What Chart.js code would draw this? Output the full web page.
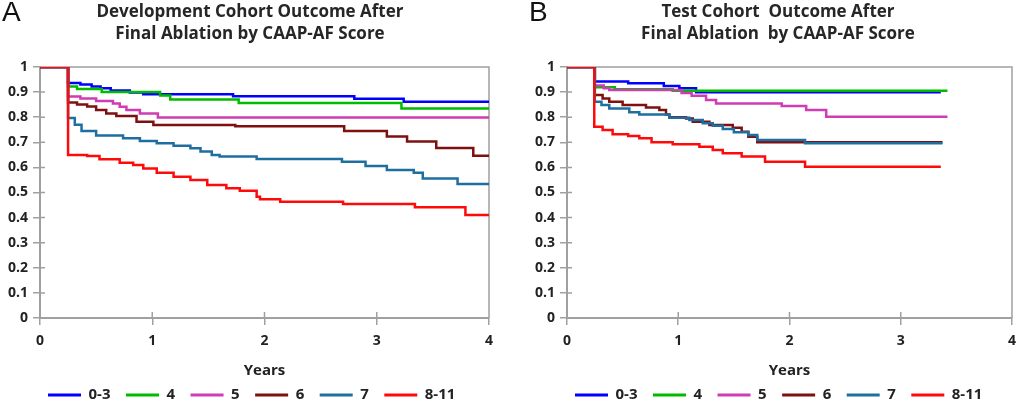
<!DOCTYPE html>
<html>
<head>
<meta charset="utf-8">
<script src="https://cdn.jsdelivr.net/npm/chart.js@4.4.1/dist/chart.umd.min.js"></script>
<style>
  body { margin: 0; background: #fff; }
  #wrap { position: relative; width: 1024px; height: 402px; overflow: hidden; }
  canvas { position: absolute; top: 0; }
  .panel { position: absolute; top: -4px; font: 28px "Liberation Sans", Arial, sans-serif; color: #111; }
  .title { position: absolute; top: 0; width: 500px; text-align: center; white-space: pre;
           font: bold 17px "Open Sans", sans-serif; line-height: 22px; color: #262626; }
</style>
</head>
<body>
<div id="wrap">
  <canvas id="devChart" width="512" height="402" style="left:0"></canvas>
  <canvas id="testChart" width="512" height="402" style="left:512px"></canvas>
  <div class="panel" style="left:2px">A</div>
  <div class="panel" style="left:529px">B</div>
  <div class="title" style="left:0px">Development Cohort Outcome After<br>Final Ablation by CAAP-AF Score</div>
  <div class="title" style="left:528px">Test Cohort  Outcome After<br>Final Ablation  by CAAP-AF Score</div>
</div>
<script>
// CAAP-AF score groups (legend order)
const scoreGroups = ["0-3", "4", "5", "6", "7", "8-11"];
const yearTicks = [0, 1, 2, 3, 4];
const survivalTicks = [0, 0.1, 0.2, 0.3, 0.4, 0.5, 0.6, 0.7, 0.8, 0.9, 1];

// Development cohort: [years, freedom from AF]
const dev03 = [[0,1],[0.25,0.936],[0.36,0.930],[0.46,0.922],[0.54,0.915],[0.63,0.906],[0.80,0.898],[0.92,0.891],[1.72,0.883],[2.80,0.874],[3.24,0.862],[4,0.862]];
const dev4 = [[0,1],[0.25,0.922],[0.33,0.912],[0.55,0.900],[1.07,0.886],[1.16,0.871],[1.77,0.857],[3.22,0.835],[4,0.835]];
const dev5 = [[0,1],[0.25,0.882],[0.36,0.875],[0.50,0.865],[0.65,0.855],[0.71,0.842],[0.77,0.829],[0.89,0.815],[1.05,0.799],[4,0.799]];
const dev6 = [[0,1],[0.25,0.859],[0.33,0.851],[0.42,0.843],[0.50,0.829],[0.59,0.815],[0.68,0.805],[0.86,0.782],[1.01,0.769],[1.74,0.764],[2.71,0.745],[3.09,0.723],[3.27,0.703],[3.53,0.677],[3.86,0.646],[4,0.646]];
const dev7 = [[0,1],[0.25,0.797],[0.31,0.770],[0.37,0.745],[0.50,0.727],[0.74,0.716],[0.89,0.705],[1.04,0.696],[1.19,0.686],[1.34,0.676],[1.43,0.663],[1.53,0.649],[1.60,0.643],[1.93,0.633],[2.69,0.623],[2.90,0.606],[3.09,0.590],[3.33,0.579],[3.41,0.556],[3.72,0.534],[4,0.534]];
const dev811 = [[0,1],[0.25,0.649],[0.42,0.645],[0.53,0.632],[0.71,0.619],[0.83,0.610],[0.92,0.596],[1.04,0.579],[1.19,0.563],[1.34,0.550],[1.49,0.530],[1.66,0.517],[1.78,0.507],[1.93,0.483],[1.96,0.473],[2.14,0.463],[2.70,0.454],[3.34,0.441],[3.79,0.410],[4,0.410]];

// Test cohort
const test03 = [[0,1],[0.25,0.942],[0.55,0.935],[0.87,0.924],[1.01,0.915],[1.16,0.899],[3.36,0.899]];
const test4 = [[0,1],[0.25,0.919],[0.43,0.911],[0.95,0.905],[3.42,0.905]];
const test5 = [[0,1],[0.25,0.926],[0.33,0.915],[0.38,0.908],[1.03,0.896],[1.12,0.885],[1.25,0.869],[1.34,0.855],[1.93,0.845],[2.15,0.829],[2.33,0.802],[3.42,0.802]];
const test6 = [[0,1],[0.25,0.888],[0.32,0.875],[0.38,0.862],[0.50,0.849],[0.71,0.839],[0.83,0.829],[0.89,0.811],[0.92,0.800],[1.07,0.795],[1.13,0.782],[1.28,0.769],[1.49,0.758],[1.57,0.742],[1.63,0.722],[1.71,0.700],[3.375,0.700]];
const test7 = [[0,1],[0.25,0.862],[0.31,0.849],[0.38,0.835],[0.56,0.820],[0.65,0.811],[0.92,0.798],[1.10,0.789],[1.22,0.776],[1.31,0.766],[1.40,0.753],[1.50,0.740],[1.63,0.729],[1.71,0.709],[2.14,0.696],[3.375,0.696]];
const test811 = [[0,1],[0.245,0.762],[0.32,0.749],[0.41,0.732],[0.55,0.725],[0.65,0.716],[0.76,0.700],[0.95,0.692],[1.19,0.682],[1.31,0.669],[1.40,0.656],[1.57,0.643],[1.78,0.623],[2.14,0.603],[3.36,0.603]];

const lineColors = ["#0000FF", "#00BB00", "#D03CB4", "#7F1010", "#1F6EA0", "#FF0A0A"];
const axisGray = "#A0A0A0";
const textColor = "#222222";

Chart.defaults.font.family = "'Open Sans', sans-serif";

// top/right frame plus the inner half of the crossing tick marks
const framePlugin = {
    id: "frame",
    beforeDatasetsDraw(chart) {
        const { ctx, chartArea: a, scales } = chart;
        ctx.save();
        ctx.strokeStyle = axisGray;
        ctx.lineWidth = 1.5;
        ctx.beginPath();
        ctx.moveTo(a.left, a.top);
        ctx.lineTo(a.right, a.top);
        ctx.lineTo(a.right, a.bottom);
        scales.y.ticks.forEach(t => {
            const y = scales.y.getPixelForValue(t.value);
            ctx.moveTo(a.left, y);
            ctx.lineTo(a.left + 5, y);
        });
        scales.x.ticks.forEach(t => {
            const x = scales.x.getPixelForValue(t.value);
            ctx.moveTo(x, a.bottom);
            ctx.lineTo(x, a.bottom - 6);
        });
        ctx.stroke();
        ctx.restore();
    }
};

function buildChart(canvasId, series, yWidth, padRight) {
    const datasets = series.map((points, i) => ({
        label: scoreGroups[i],
        data: points.map(p => ({ x: p[0], y: p[1] })),
        borderColor: lineColors[i],
        backgroundColor: lineColors[i],
        borderWidth: 2.5,
        stepped: "before",
        pointRadius: 0,
        fill: false,
        order: series.length - 1 - i   // red drawn last, on top
    }));

    return new Chart(document.getElementById(canvasId), {
        type: "line",
        data: { datasets: datasets },
        options: {
            responsive: false,
            animation: false,
            layout: { padding: { left: 0, right: padRight, top: 67, bottom: 0 } },
            plugins: {
                tooltip: { enabled: false },
                title: { display: false },
                legend: {
                    position: "bottom",
                    align: "start",
                    fullSize: false,
                    maxHeight: 22.5,
                    labels: {
                        boxWidth: 33,
                        boxHeight: 3,
                        padding: 8,
                        color: textColor,
                        font: { size: 15, weight: "bold" },
                        sort: (a, b) => a.datasetIndex - b.datasetIndex,
                        generateLabels: (chart) => {
                            const items = Chart.defaults.plugins.legend.labels.generateLabels(chart);
                            return items.map(item => ({
                                ...item,
                                lineWidth: 0,
                                text: item.datasetIndex < scoreGroups.length - 1 ? item.text + "\u2002" : item.text
                            }));
                        }
                    }
                }
            },
            scales: {
                x: {
                    type: "linear",
                    min: 0,
                    max: 4,
                    afterBuildTicks: (scale) => { scale.ticks = yearTicks.map(v => ({ value: v })); },
                    afterFit: (scale) => { scale.height = 61.5; },
                    ticks: { color: textColor, padding: 8, font: { size: 14, weight: "bold" } },
                    grid: { drawOnChartArea: false, color: axisGray, tickLength: 7, lineWidth: 1.5 },
                    border: { color: axisGray, width: 2 },
                    title: {
                        display: true,
                        text: "Years",
                        color: textColor,
                        font: { size: 15, weight: "bold" },
                        padding: { top: 0, bottom: 0 }
                    }
                },
                y: {
                    min: 0,
                    max: 1,
                    afterBuildTicks: (scale) => { scale.ticks = survivalTicks.map(v => ({ value: v })); },
                    afterFit: (scale) => { scale.width = yWidth; },
                    ticks: { color: textColor, padding: 5, font: { size: 14, weight: "bold" }, callback: v => String(v) },
                    grid: { drawOnChartArea: false, color: axisGray, tickLength: 7, lineWidth: 1.5 },
                    border: { color: axisGray, width: 2 }
                }
            }
        },
        plugins: [framePlugin]
    });
}

buildChart("devChart", [dev03, dev4, dev5, dev6, dev7, dev811], 40, 23);
buildChart("testChart", [test03, test4, test5, test6, test7, test811], 55, 9);
</script>
</body>
</html>
